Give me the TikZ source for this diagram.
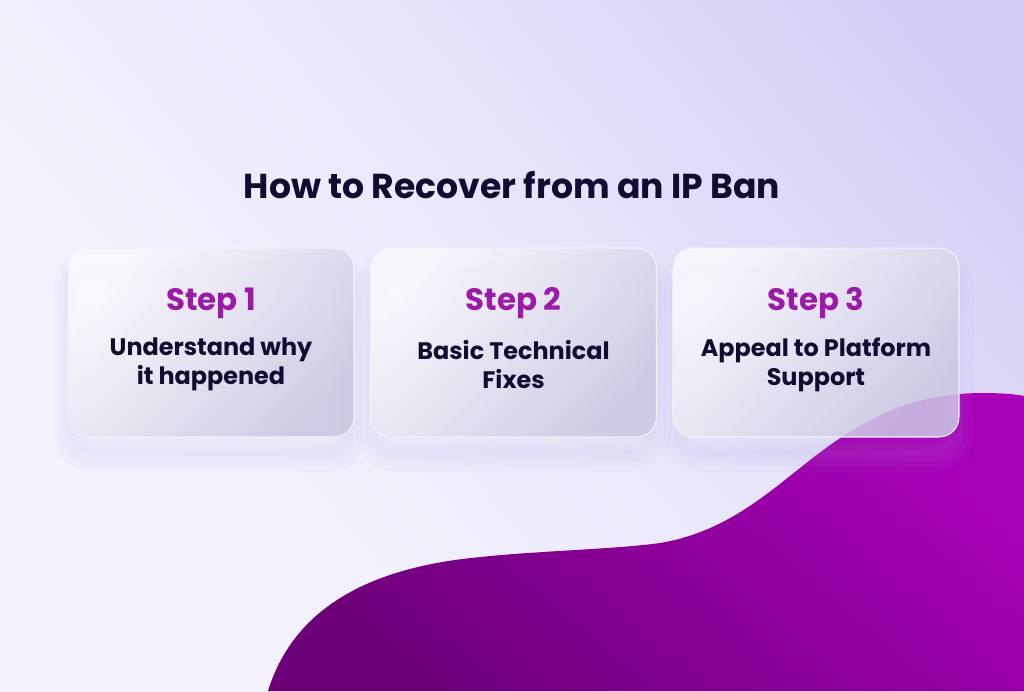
\documentclass[tikz,border=0pt]{standalone}
\usepackage{fontspec}
\setmainfont{Poppins}
\usetikzlibrary{positioning,backgrounds}
\definecolor{bgtop}{RGB}{210,203,245}
\definecolor{bgupper}{RGB}{222,217,248}
\definecolor{bgmid}{RGB}{234,232,251}
\definecolor{bgsoft}{RGB}{242,241,253}
\definecolor{bglow}{RGB}{247,246,254}
\definecolor{blobdark}{RGB}{108,0,120}
\definecolor{blobbright}{RGB}{168,0,184}
\definecolor{cardlight}{RGB}{250,250,253}
\definecolor{carddark}{RGB}{202,200,226}
\definecolor{stepviolet}{RGB}{155,26,168}
\definecolor{inknavy}{RGB}{16,13,48}
\definecolor{shadowlav}{RGB}{170,165,225}
\pgfdeclareverticalshading{backdrop}{100bp}{color(0bp)=(bglow); color(35bp)=(bgsoft); color(52bp)=(bgmid); color(68bp)=(bgupper); color(82bp)=(bgtop); color(100bp)=(bgtop)}

\begin{document}
\begin{tikzpicture}[x=0.02cm, y=-0.02cm,
    card/.style={rounded corners=0.4cm, minimum width=5.72cm, minimum height=3.78cm, draw=white!75!carddark, line width=0.6pt, top color=cardlight, bottom color=carddark, shading angle=45, fill opacity=0.86},
    steplbl/.style={font=\bfseries\fontsize{17.6}{21}\selectfont, text=stepviolet},
    stepdesc/.style={font=\bfseries\fontsize{13.6}{16.6}\selectfont, text=inknavy, align=center}
]
\useasboundingbox (0,0) rectangle (1024,691);

\node[font=\bfseries\fontsize{19.7}{24}\selectfont, text=inknavy] (title) at (512,185) {How to Recover from an IP Ban};

\node[card] (s1) at (211,342.5) {};
\node[card, right=0.31cm of s1] (s2) {};
\node[card, right=0.31cm of s2] (s3) {};

\node[steplbl] (h1) at ([yshift=0.79cm]s1.center) {Step 1};
\node[stepdesc] (d1) at ([yshift=-0.44cm]s1.center) {Understand why\\it happened};
\node[steplbl] (h2) at ([yshift=0.79cm]s2.center) {Step 2};
\node[stepdesc] (d2) at ([yshift=-0.44cm]s2.center) {Basic Technical\\Fixes};
\node[steplbl] (h3) at ([yshift=0.79cm]s3.center) {Step 3};
\node[stepdesc] (d3) at ([yshift=-0.44cm]s3.center) {Appeal to Platform\\Support};

\begin{scope}[on background layer]
% backdrop and wave
\shade[shading=backdrop, shading angle=-50] (0,0) rectangle (1024,691);
\shade[top color=blobbright, bottom color=blobdark, shading angle=-40]
  (268,691) .. controls (290,620) and (350,575) .. (455,560)
  .. controls (520,551) and (610,550) .. (660,543)
  .. controls (720,533) and (760,500) .. (800,468)
  .. controls (850,428) and (900,394) .. (980,393)
  .. controls (1000,393) and (1015,394) .. (1024,396)
  -- (1024,691) -- cycle;
% soft shadows
\foreach \b in {s1,s2,s3}
  \foreach \w in {22pt,16pt,10pt,4pt}
    \draw[shadowlav, line width=\w, opacity=0.045, rounded corners=0.4cm]
      ([yshift=-0.3cm,xshift=0.1cm]\b.south west) rectangle ([yshift=-0.45cm,xshift=-0.1cm]\b.north east);
\end{scope}
\end{tikzpicture}
\end{document}
